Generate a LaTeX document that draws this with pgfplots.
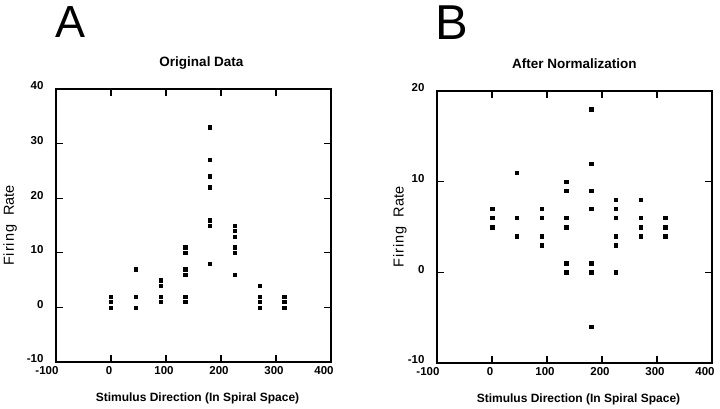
\documentclass[border=0pt]{standalone}
\usepackage{fontspec}
\setmainfont{Liberation Sans}
\usepackage{pgfplots}
\pgfplotsset{compat=1.18}
\pgfplotstableread{
x y
0 0
0 1
0 2
45 0
45 2
45 7
90 1
90 2
90 4
90 5
135 1
135 2
135 6
135 7
135 10
135 11
180 8
180 15
180 16
180 22
180 24
180 27
180 33
225 6
225 10
225 11
225 13
225 14
225 15
270 0
270 1
270 2
270 4
315 0
315 1
315 2
}\dataA
\pgfplotstableread{
x y
0 5
0 6
0 7
45 4
45 6
45 11
90 3
90 4
90 6
90 7
135 0
135 1
135 5
135 6
135 9
135 10
180 -6
180 0
180 1
180 7
180 9
180 12
180 18
225 0
225 3
225 4
225 6
225 7
225 8
270 4
270 5
270 6
270 8
315 4
315 5
315 6
}\dataB
\newcommand{\firing}{F\kern1pt i\kern1pt r\kern1pt i\kern1pt n\kern1pt g}
\begin{document}
\begin{tikzpicture}
\useasboundingbox (0pt,0pt) rectangle (720pt,408pt);
\pgfplotsset{
 myax/.style={
  scale only axis, width=275pt,
  xmin=-100,xmax=400, xtick={-100,0,...,400},
  xticklabels={{-100\hspace*{14pt}},0,100,200,300,{400\hspace*{10pt}}},
  tick align=inside, major tick length=7pt,
  axis line style={line width=1.4pt},
  major tick style={line width=1.2pt, black},
  tick label style={font=\bfseries\fontsize{11.5}{12}\selectfont},
  /pgf/number format/assume math mode=true,
  scaled ticks=false,
  yticklabel style={anchor=east, xshift=-9pt, yshift=3pt},
  xticklabel style={anchor=north, yshift=-1pt, xshift=-2pt},
  title style={at={(0.5,1)}, anchor=base, yshift=17pt, font=\bfseries\fontsize{13.5}{14}\selectfont},
  xlabel style={at={(0.5,0)}, anchor=base, yshift=-39pt, xshift=4pt, font=\bfseries\fontsize{12}{13}\selectfont},
  ylabel style={anchor=center, font=\fontsize{14.5}{15}\selectfont},
  clip=false,
 }
}
\node[anchor=base west, inner sep=0, font=\fontsize{45}{45}\selectfont] at (55pt,370pt) {A};
\node[anchor=base west, inner sep=0, font=\fontsize{49}{49}\selectfont] at (435pt,368pt) {B};
\begin{axis}[myax, at={(56pt,46pt)}, anchor=south west, height=273pt,
  ymin=-10, ymax=40, ytick={-10,0,...,40},
  title={Original Data}, title style={xshift=8pt},
  xlabel={Stimulus Direction (In Spiral Space)},
  ylabel={\firing\hspace{9pt}Rate},
  ylabel style={at={(axis description cs:-0.167,0.5)}}]
\addplot[only marks, mark=square*, mark size=1.7pt, black] table[x=x,y=y] {\dataA};
\end{axis}
\begin{axis}[myax, at={(437pt,45pt)}, anchor=south west, height=272pt,
  ymin=-10, ymax=20, ytick={-10,0,...,20},
  title={After Normalization},
  xlabel={Stimulus Direction (In Spiral Space)},
  ylabel={\firing\hspace{9pt}Rate},
  ylabel style={at={(axis description cs:-0.135,0.5)}}]
\addplot[only marks, mark=square*, mark size=1.7pt, black] table[x=x,y=y] {\dataB};
\end{axis}
\end{tikzpicture}
\end{document}
